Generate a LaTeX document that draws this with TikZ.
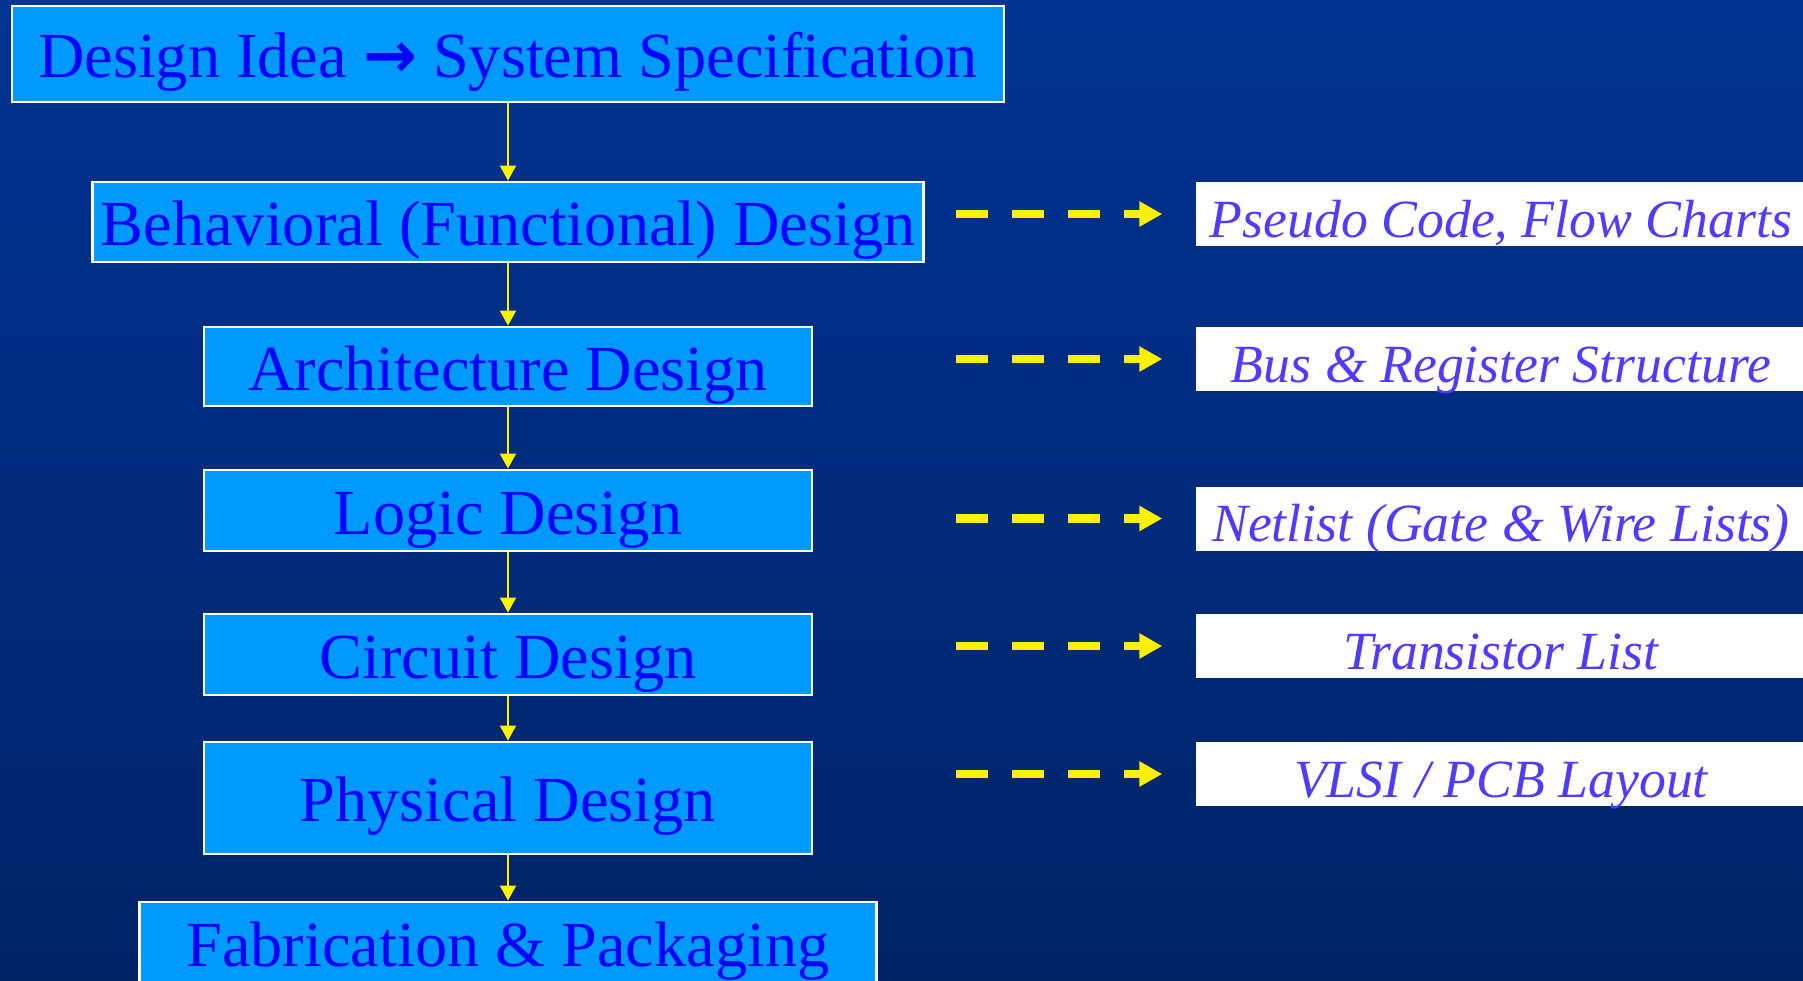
\documentclass[tikz,border=0pt]{standalone}
\usepackage{fontspec}
\setmainfont{Liberation Serif}
\newfontfamily\arrowfont{DejaVu Sans}
\usepackage{tikz}
\usetikzlibrary{arrows.meta, positioning, calc}

\definecolor{bgtop}{RGB}{0,51,147}
\definecolor{bgbot}{RGB}{0,35,102}
\definecolor{boxblue}{RGB}{0,153,255}
\definecolor{txtblue}{RGB}{0,0,255}
\definecolor{noteblue}{RGB}{80,60,255}

\begin{document}
\begin{tikzpicture}[
  every node/.style={inner sep=0pt},
  stage/.style={rectangle, draw=white, line width=0.8pt, fill=boxblue, text=txtblue,
    text height=0.47cm, text depth=0pt, font=\fontsize{18.3}{22}\selectfont},
  note/.style={rectangle, fill=white, text=noteblue, minimum width=6.1cm, minimum height=0.64cm,
    text height=0.46cm, text depth=0pt, font=\fontsize{15.3}{18}\selectfont\itshape},
  flow/.style={-{Triangle[length=0.15cm, width=0.16cm]}, yellow, line width=0.6pt},
  hint/.style={-{Triangle[length=0.23cm, width=0.24cm]}, yellow, line width=2.5pt,
    dash pattern=on 0.32cm off 0.24cm},
]
  \clip (0,0) rectangle (18.03,-9.81);
  \shade[top color=bgtop, bottom color=bgbot] (0,0) rectangle (18.03,-9.81);

  % design flow
  \node[stage, minimum width=9.92cm, minimum height=0.96cm] (idea) at (5.08,-0.54)
    {Design Idea {\arrowfont\bfseries →} System Specification};
  \node[stage, minimum width=8.31cm, minimum height=0.80cm] (beh) at (5.08,-2.22)
    {Behavioral (Functional) Design};
  \node[stage, minimum width=6.08cm, minimum height=0.79cm] (arch) at (5.08,-3.665)
    {Architecture Design};
  \node[stage, minimum width=6.08cm, minimum height=0.81cm] (logic) at (5.08,-5.105)
    {Logic Design};
  \node[stage, minimum width=6.08cm, minimum height=0.81cm] (circ) at (5.08,-6.545)
    {Circuit Design};
  \node[stage, minimum width=6.08cm, minimum height=1.12cm] (phys) at (5.08,-7.98)
    {Physical Design};
  \node[stage, minimum width=7.37cm, minimum height=0.81cm] (fab) at (5.08,-9.425)
    {Fabrication \& Packaging};

  \draw[flow] (idea) -- (beh);
  \draw[flow] (beh) -- (arch);
  \draw[flow] (arch) -- (logic);
  \draw[flow] (logic) -- (circ);
  \draw[flow] (circ) -- (phys);
  \draw[flow] (phys) -- (fab);

  % representations
  \node[note] (pcode) at (15.01,-2.14) {Pseudo Code, Flow Charts};
  \node[note] (bus) at (15.01,-3.59) {Bus \& Register Structure};
  \node[note] (netl) at (15.01,-5.185) {Netlist (Gate \& Wire Lists)};
  \node[note] (trans) at (15.01,-6.46) {Transistor List};
  \node[note] (layout) at (15.01,-7.74) {VLSI / PCB Layout};

  \draw[hint] ([xshift=-2.39cm]pcode.west) -- ([xshift=-0.33cm]pcode.west);
  \draw[hint] ([xshift=-2.39cm]bus.west) -- ([xshift=-0.33cm]bus.west);
  \draw[hint] ([xshift=-2.39cm]netl.west) -- ([xshift=-0.33cm]netl.west);
  \draw[hint] ([xshift=-2.39cm]trans.west) -- ([xshift=-0.33cm]trans.west);
  \draw[hint] ([xshift=-2.39cm]layout.west) -- ([xshift=-0.33cm]layout.west);
\end{tikzpicture}
\end{document}
